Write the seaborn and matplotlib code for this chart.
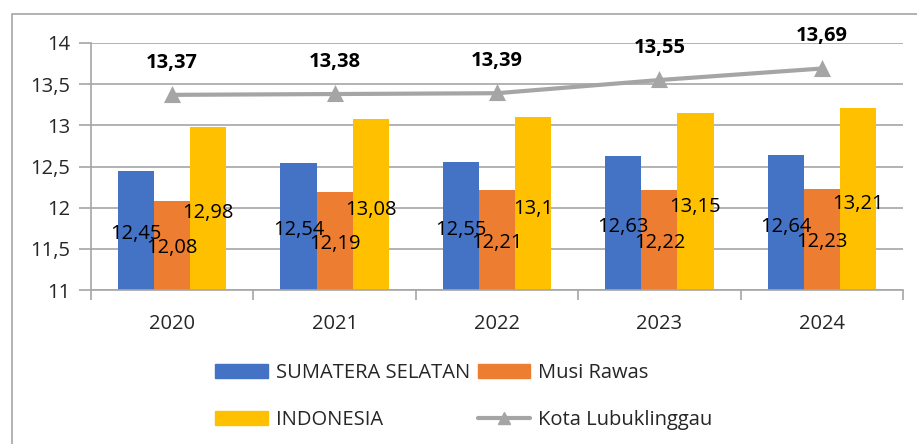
import pandas as pd
import seaborn as sns
import matplotlib
matplotlib.use('Agg')
from matplotlib import pyplot as plt
from matplotlib.patches import Rectangle, Patch
from matplotlib.lines import Line2D

years = ['2020', '2021', '2022', '2023', '2024']
sumsel = [12.45, 12.54, 12.55, 12.63, 12.64]
musi_rawas = [12.08, 12.19, 12.21, 12.22, 12.23]
indonesia = [12.98, 13.08, 13.10, 13.15, 13.21]
lubuklinggau = [13.37, 13.38, 13.39, 13.55, 13.69]
bar_names = ['SUMATERA SELATAN', 'Musi Rawas', 'INDONESIA']
line_name = 'Kota Lubuklinggau'
bar_colors = ['#4472C4', '#ED7D31', '#FFC000']
line_color = '#A5A5A5'
grey = '#a6a6a6'


def fmt(v):
    return ('%.2f' % v).rstrip('0').rstrip('.').replace('.', ',')


sns.set_theme(style='white')
plt.rcParams['font.family'] = ['Open Sans', 'DejaVu Sans']

df = pd.DataFrame({
    'year': years * 3,
    'value': sumsel + musi_rawas + indonesia,
    'region': [bar_names[0]] * 5 + [bar_names[1]] * 5 + [bar_names[2]] * 5,
})
df_line = pd.DataFrame({'year': years, 'value': lubuklinggau})

fig = plt.figure(figsize=(9.17, 4.44), dpi=100)
ax = fig.add_axes([0.0992, 0.3468, 0.8855, 0.5564])

# chart border, cut off on the right and bottom like the original
fig.patches.append(Rectangle((12 / 917, -0.1), 1.2, 1 - 14 / 444 + 0.1, transform=fig.transFigure,
                             fill=False, edgecolor=grey, linewidth=1.2))

sns.barplot(data=df, x='year', y='value', hue='region', palette=bar_colors, width=0.667,
            saturation=1, ax=ax, legend=False, edgecolor='none')

# value labels roughly in the middle of the visible part of each bar
ymin = 11
for cont in ax.containers:
    for rect, v in zip(cont, cont.datavalues):
        ax.text(rect.get_x() + rect.get_width() / 2, ymin + (v - ymin) * 0.47, fmt(v),
                ha='center', va='center', fontsize=14.5, color='black')

sns.pointplot(data=df_line, x='year', y='value', color=line_color, marker='^', markersize=9,
              linewidth=3, ax=ax)
for i, v in enumerate(lubuklinggau):
    ax.annotate(fmt(v), (i, v), xytext=(0, 16), textcoords='offset points', ha='center', va='bottom',
                fontsize=14.5, fontweight='bold', color='black', annotation_clip=False)

ax.set_ylim(11, 14)
ax.set_xlim(-0.5, 4.5)
ax.set_yticks([11, 11.5, 12, 12.5, 13, 13.5, 14])
ax.set_yticklabels(['11', '11,5', '12', '12,5', '13', '13,5', '14'])
ax.set_xlabel('')
ax.set_ylabel('')
ax.yaxis.grid(True, color=grey, linewidth=1.2)
ax.set_axisbelow(True)
for s in ['top', 'right']:
    ax.spines[s].set_visible(False)
for s in ['left', 'bottom']:
    ax.spines[s].set_color(grey)
    ax.spines[s].set_linewidth(1.2)
ax.tick_params(axis='y', length=9, color=grey, width=1.2, labelsize=14.5, pad=6, left=True)
ax.set_xticks([i - 0.5 for i in range(6)], minor=True)
ax.tick_params(axis='x', which='major', length=0, labelsize=14.5, pad=17)
ax.tick_params(axis='x', which='minor', length=7, color=grey, width=1.2, bottom=True)

handles = [Patch(color=bar_colors[0], label=bar_names[0]),
           Patch(color=bar_colors[2], label=bar_names[2]),
           Patch(color=bar_colors[1], label=bar_names[1]),
           Line2D([], [], color=line_color, linewidth=3, marker='^', markersize=9, label=line_name)]
fig.legend(handles=handles, ncol=2, loc='center left', bbox_to_anchor=(0.215, 0.107),
           frameon=False, fontsize=14.5, handlelength=2.6, handleheight=0.7, columnspacing=0.4,
           labelspacing=1.35, handletextpad=0.4)

fig.savefig('out.png', dpi=100)
